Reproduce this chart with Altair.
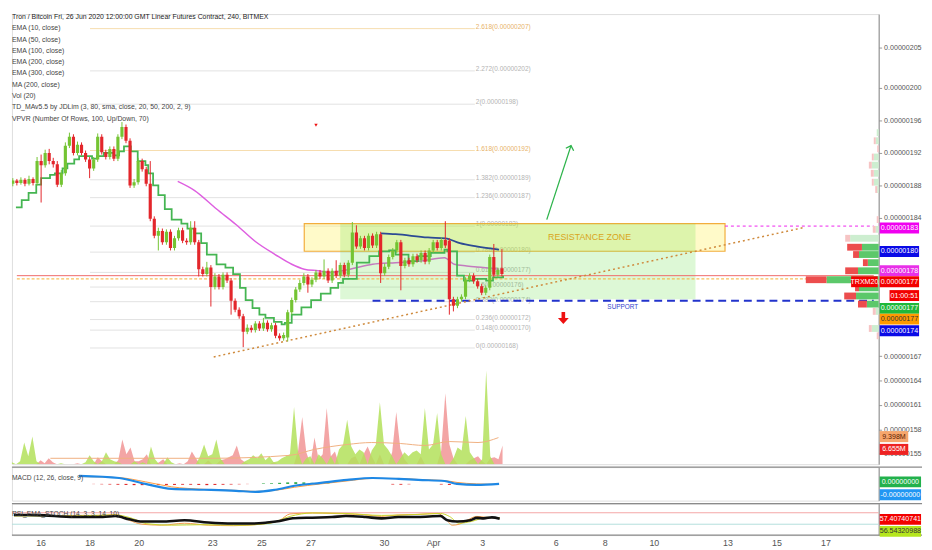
import altair as alt
import pandas as pd

FONT = "Liberation Sans, Arial, sans-serif"
W = 880
H_MAIN, H_MACD, H_RSI = 457, 34, 32
GREEN, RED = "#74c433", "#e3262b"

BAR0 = "2020-03-14 16:00"          # first 4-hour candle (bar 0)
X_DOM = [1.0, 213.0]               # visible bars
P_DOM = [153.7, 209.09]            # price, 1e-8 BTC
V_DOM = [0, 457]
M_DOM = [-8, 8]
R_DOM = [-8, 102]

# ---------------- candles (price in 1e-8 BTC) ----------------
opens = [188.2,188.6,188.3,188.7,188.2,188.8,188.3,191.0,190.5,192.0,
         191.0,190.6,188.1,189.5,192.9,194.0,192.0,193.0,192.0,191.2,
         190.1,191.2,194.0,192.1,191.5,192.5,191.3,194.0,195.2,193.5,
         188.0,188.4,191.0,190.0,188.2,183.9,181.8,182.4,181.0,182.3,
         180.3,181.5,182.5,181.2,181.0,182.8,181.0,177.7,177.1,177.9,
         175.5,176.8,175.5,177.0,176.3,173.8,172.7,171.9,170.0,170.5,
         170.2,171.0,170.4,171.1,170.3,170.8,169.5,169.2,169.3,172.4,
         173.9,175.2,176.0,176.8,175.8,176.4,177.3,176.8,177.5,176.3,
         177.5,176.9,178.2,177.0,178.5,182.2,180.5,181.5,180.3,181.8,
         180.6,182.0,177.2,178.0,179.2,180.0,181.0,178.1,178.8,178.3,
         179.3,178.8,179.7,178.6,180.0,181.0,180.3,181.3,181.2,174.0,
         173.2,174.0,174.3,176.4,176.9,176.2,175.6,174.8,175.4,179.2,
         177.0,177.8]
closes = [188.6,188.3,188.7,188.2,188.8,188.3,191.0,190.5,192.0,191.0,
          190.6,188.1,189.5,192.9,194.0,192.0,193.0,192.0,191.2,190.1,
          191.2,194.0,192.1,191.5,192.5,191.3,194.0,195.2,193.5,188.0,
          188.4,191.0,190.0,188.2,183.9,181.8,182.4,181.0,182.3,180.3,
          181.5,182.5,181.2,181.0,182.8,181.0,177.7,177.1,177.9,175.5,
          176.8,175.5,177.0,176.3,173.8,172.7,171.9,170.0,170.5,170.2,
          171.0,170.4,171.1,170.3,170.8,169.5,169.2,169.6,172.4,173.9,
          175.2,176.0,176.8,175.8,176.4,177.3,176.8,177.5,176.3,177.5,
          176.9,178.2,177.0,178.5,182.2,180.5,181.5,180.3,181.8,180.6,
          182.0,177.2,178.0,179.2,180.0,181.0,178.1,178.8,178.3,179.3,
          178.8,179.7,178.6,180.0,181.0,180.3,181.3,180.6,174.0,173.2,
          174.0,174.3,176.4,176.9,176.2,175.6,174.8,175.4,179.2,177.0,
          177.6,177.1]
highs = [188.9,188.8,189.0,188.9,189.2,189.0,191.5,191.8,192.4,192.5,
         191.4,191.0,189.9,193.3,194.5,194.3,193.4,193.3,192.3,191.5,
         191.5,194.4,194.3,192.4,192.8,192.8,194.3,195.8,195.5,193.8,
         188.8,191.4,191.3,190.3,191.0,184.2,182.8,182.7,182.6,182.6,
         181.8,182.8,182.8,181.5,183.6,183.6,181.3,178.0,178.6,178.2,
         177.2,177.1,177.3,177.3,176.6,174.1,173.0,172.2,170.9,170.8,
         171.3,171.3,171.7,171.4,171.1,171.1,169.8,169.9,172.7,174.2,
         175.5,176.4,177.2,177.1,176.7,177.6,177.6,178.9,177.8,177.8,
         178.8,178.5,178.5,178.8,183.5,183.1,181.8,181.8,182.1,182.1,
         182.3,182.3,178.4,179.5,180.3,181.3,181.3,179.1,179.1,179.6,
         179.6,180.0,180.0,180.3,181.3,181.3,181.6,183.6,181.5,174.3,
         174.3,174.6,176.7,177.2,177.2,176.5,175.9,175.7,179.5,180.8,
         177.9,180.2]
lows = [187.9,188.0,188.1,187.9,188.0,188.0,188.0,185.9,190.2,190.6,
        190.2,187.8,187.8,189.2,192.6,191.7,191.7,191.7,190.9,188.9,
        189.8,190.9,191.8,191.2,191.2,191.0,191.0,193.7,193.2,187.7,
        187.7,188.1,189.7,187.9,183.6,181.5,180.0,180.7,180.7,180.0,
        180.0,181.2,180.9,180.7,180.7,180.7,176.8,176.8,176.8,173.1,
        175.2,175.2,175.2,176.0,172.1,172.4,171.6,168.1,169.7,169.9,
        169.9,170.1,170.1,170.0,170.0,169.2,168.9,168.9,168.8,172.1,
        173.6,174.9,175.7,174.8,175.5,176.1,176.5,176.5,176.0,176.0,
        176.6,176.6,176.7,176.7,178.2,180.2,180.2,180.0,180.0,180.3,
        180.3,176.0,176.9,177.7,178.9,179.7,175.1,177.8,178.0,178.0,
        178.5,178.5,178.3,178.3,179.7,180.0,180.0,180.3,172.1,172.5,
        172.9,173.7,174.0,176.1,175.9,175.3,174.5,174.5,175.1,176.7,
        176.7,176.8]

# ---------------- volume (thousand contracts, approx.) ----------------
vol_up = [7,2,0,3,22,8,28,3,0,0, 0,0,0,1,0,0,0,0,0,2, 9,3,0,3,12,5,3,2,0,0,
          0,3,0,2,0,18,5,0,0,7, 2,0,0,0,0,0,0,8,20,8, 10,25,6,0,0,0,0,0,3,5,
          9,6,11,4,8,2,3,6,8,10, 58,12,0,6,8,0,10,6,0,8, 0,15,20,45,18,10,15,12,0,14,
          20,63,20,15,8,0,6,12,8,12, 14,10,57,15,20,52,10,0,0,6, 17,14,49,12,6,0,5,95,8,0,
          0,0]
vol_down = [0,0,0,0,0,0,0,0,4,1, 6,2,0,0,0,0,0,1,0,0, 0,0,7,3,0,0,0,4,25,10,
            17,3,3,5,10,0,0,2,5,0, 0,0,1,0,3,13,6,0,0,4, 0,0,4,5,7,9,19,5,2,0,
            0,0,0,0,0,2,0,0,0,0, 0,14,48,12,0,27,5,10,57,8, 13,0,0,0,6,8,0,10,18,8,
            0,10,0,0,12,53,16,5,0,0, 0,8,0,0,0,0,14,72,20,6, 0,0,0,4,6,8,3,0,6,7,
            5,19]
volma_bar = [10.4, 30, 50, 69, 75, 83, 89, 96, 102, 108, 115, 120]
volma_val = [6, 6, 6, 9, 15, 20, 22, 21, 19, 23, 22, 27]

# ---------------- indicator lines on price ----------------
td_bar = [0.77,2.2,3.9,5.8,7.0,9.2,10.4,12.3,13.5,15.2,16.4,17.6,19.6,20.8,22.5,24.9,26.3,27.5,29.2,30.9,
          32.8,33.5,34.7,36.0,37.6,39.3,41.7,43.2,44.9,46.6,48.0,50.4,52.6,54.5,56.2,57.6,59.3,61.0,62.5,64.6,
          66.5,67.3,69.0,71.4,73.8,76.2,78.6,80.5,81.7,85.1,88.2,90.6,93.1,94.7,97.9,100.3,103.4,106.8,107.5,109.9,
          111.6,114.0,117.1,118.8,121.3]
td_val = [185.3,186.2,187.1,188.1,188.9,189.3,189.5,190.1,190.7,191.2,191.6,191.6,191.3,191.6,192.0,191.7,192.2,192.8,192.2,191.0,
          190.5,189.5,188.0,186.8,185.1,183.8,183.3,182.7,182.1,180.9,179.5,178.3,177.9,177.1,175.4,173.9,172.9,172.1,171.7,171.2,
          170.9,171.1,172.1,173.0,173.9,174.7,175.4,176.0,176.5,178.5,179.3,179.9,180.0,179.5,178.7,179.3,179.7,180.1,179.9,176.9,
          176.3,176.5,176.3,176.7,176.9]
ma_bar = [40.8,44.9,50.4,55.2,60.0,64.9,69.0,72.1,75.5,78.6,83.4,89.0,94.7,101.0,106.8,109.2,112.3,116.4,120.3]
ma_val = [188.5,187.4,185.1,183.2,181.1,179.5,178.3,177.7,177.5,177.3,177.7,178.3,178.5,178.7,179.1,178.3,178.1,177.9,177.7]
ema_bar = [91.1,94.7,102.7,107.0,110.6,114.7,120.3]
ema_val = [182.1,182.0,181.6,181.5,180.9,180.5,180.1]

# ---------------- fibonacci retracement ----------------
fib_price = [168.0,170.2,171.5,173.7,175.5,177.3,179.8,183.0,186.5,188.7,192.3,198.0,202.1,207.3]
fib_label = ["0(0.00000168)","0.148(0.00000170)","0.236(0.00000172)","0.382(0.00000174)","0.5(0.00000176)",
             "0.618(0.00000177)","0.786(0.00000180)","1(0.00000183)","1.236(0.00000187)","1.382(0.00000189)",
             "1.618(0.00000192)","2(0.00000198)","2.272(0.00000202)","2.618(0.00000207)"]
fib_hot = [0,0,0,0,0,0,0,0,0,0,1,0,0,1]
FIB_B0, FIB_B1 = 19.1, 114.3

# ---------------- drawings ----------------
res_zone = dict(b0=72.1, b1=176.2, lo=179.9, hi=183.3)
green_zone = dict(b0=81.0, b1=168.9, lo=174.0, hi=183.3)
last_price, mark_price, res_line, support = 176.9, 176.5, 183.0, 173.8
trend_bar, trend_val = [49.7, 195.5], [166.9, 182.8]
arrow_bar, arrow_val = [132.1, 138.1], [183.8, 192.9]
down_arrow = (136.2, 171.7)

# ---------------- VPVR ----------------
vp_price = [194.5,193.5,192.5,191.5,190.5,189.5,188.4,187.5,183.8,182.6,181.5,180.4,179.5,178.5,177.5,176.4,175.4,174.4,173.4,172.5,170.4,169.5]
vp_up    = [2,3,0,5,7,5,5,1.5,0,3,29,17,20,11,21,53,20,23,12,3,7,0]
vp_down  = [0,2,1.5,2,3,3,2,2,2,3,5,15,6,5,13,21,4,12,9,3,3,2]
vp_va    = [0,0,0,0,0,0,0,0,0,0,0,1,1,1,1,1,1,1,1,0,0,0]

# ---------------- MACD / RSI ----------------
macd_bar = [16.4,26.3,32.8,39.3,47.3,55.2,60.0,64.9,69.7,76.2,82.7,89.0,95.5,100.3,106.8,109.9,114.7,120.3]
macd_val = [3.8,2.8,0.0,-2.4,-2.8,-3.3,-3.8,-2.8,-0.9,0.5,1.9,2.8,2.4,1.9,1.4,0.0,-0.5,0.0]
signal_val = [3.5,3.0,1.0,-1.4,-2.6,-3.1,-3.6,-3.1,-1.6,0.0,1.4,2.6,2.6,2.1,1.6,0.7,0.0,-0.2]
hist_bar = [20,22,24,26,28,30,32,34,36,38,40,42,44,46,48,50,52,54,56,58,
            62,64,66,68,70,72,74,76,78, 94,96,98,106,108,110]
hist_val = [-0.1,-0.2,-0.3,-0.4,-0.5,-0.6,-0.6,-0.7,-0.6,-0.5,-0.5,-0.4,-0.4,-0.5,-0.6,-0.5,-0.4,-0.3,-0.2,-0.1,
            0.2,0.3,0.5,0.7,0.8,0.7,0.5,0.3,0.2, -0.3,-0.4,-0.2,-0.3,-0.5,-0.3]
rsi_bar = [1.5,7.0,16.4,23.2,26.3,29.7,32.8,37.6,43.2,49.0,55.2,60.0,63.4,66.5,69.7,74.5,79.3,82.7,87.5,91.4,
           95.5,100.3,105.8,107.5,109.9,113.1,114.7,116.4,118.4,120.3]
rsi_val = [62.5,61.8,55.0,55.0,58.4,47.1,39.2,39.2,43.7,35.8,32.4,32.4,35.8,41.3,50.5,52.9,55.0,58.4,55.0,50.5,
           55.0,55.0,58.4,43.7,39.2,43.7,52.2,50.5,53.9,49.5]
k_bar = [1.5,16.4,23.2,26.3,29.7,32.8,37.6,43.2,49.0,55.2,61.7,66.5,69.0,74.5,79.3,82.7,87.5,91.4,95.5,100.3,
         105.1,107.0,108.7,110.4,112.3,114.7,117.1,120.3]
k_val = [60.0,60.8,60.8,64.2,43.7,30.0,26.6,33.4,26.6,24.9,30.0,43.7,65.9,69.3,67.6,65.9,62.5,57.3,62.5,64.2,
         67.6,50.5,26.6,30.0,43.7,57.3,53.9,52.2]
d_bar = [1.5,16.4,26.3,30.4,34.0,40.0,47.3,56.9,64.1,69.0,74.5,82.7,91.4,100.3,105.8,108.0,110.4,113.5,117.1,120.3]
d_val = [59.0,59.0,62.5,50.5,31.7,26.6,28.3,26.6,33.4,57.3,69.3,67.6,60.8,64.2,67.6,57.3,33.4,40.1,53.9,52.2]
rsi_bands = [70, 30]

# ---------------- text ----------------
title_line = "Tron / Bitcoin Fri, 26 Jun 2020 12:00:00 GMT Linear Futures Contract, 240, BITMEX"
legend_lines = ["EMA (10, close)", "EMA (50, close)", "EMA (100, close)", "EMA (200, close)",
                "EMA (300, close)", "MA (200, close)", "Vol (20)",
                "TD_MAv5.5 by JDLim (3, 80, sma, close, 20, 50, 200, 2, 9)",
                "VPVR (Number Of Rows, 100, Up/Down, 70)"]
axis_ticks = [155, 158, 161, 164, 167, 184, 188, 192, 196, 200, 205]
tick_dates = ["2020-03-16","2020-03-18","2020-03-20","2020-03-23","2020-03-25","2020-03-27","2020-03-30",
              "2020-04-01","2020-04-03","2020-04-06","2020-04-08","2020-04-10","2020-04-13","2020-04-15","2020-04-17"]
tick_text = ["16","18","20","23","25","27","30","Apr","3","6","8","10","13","15","17"]
# (text, value, background, foreground)
price_tags = [("0.00000183",183,"#f000f0","white"), ("0.00000180",180,"#0a0ae6","white"),
              ("0.00000178",178,"#e830e8","white"), ("0.00000177",177,"#f20000","white"),
              ("01:00:51",177,"#f20000","white"), ("0.00000177",177,"#1fb83a","white"),
              ("0.00000177",177,"#ff9a00","#333333"), ("0.00000174",174,"#0a0ae6","white")]
tag_shift = [2, 1, 4, 7, 21, 34, 45, 32]          # label stacking, px
vol_tags = [("9.398M", 19, "#f6a66c", "#5a1a00"), ("6.655M", 27, "#ee2222", "white")]
vol_shift = [-9, 12]
macd_tags = [("0.00000000", 0, "#22b14c", "white"), ("-0.00000000", 0, "#2196f3", "white")]
macd_shift = [-2, 11]
rsi_tags = [("57.40740741", 57.4, "#f20000", "white"), ("56.54320988", 56.5, "#b5e61d", "#333333")]
rsi_shift = [3, 15]

# ================= build =================
start = pd.Timestamp(BAR0)
tick_bars = [int((pd.Timestamp(d) - start) / pd.Timedelta(hours=4)) for d in tick_dates]
label_expr = " : ".join(f"datum.value == {b} ? '{t}'" for b, t in zip(tick_bars, tick_text)) + " : ''"

xsc = alt.Scale(domain=X_DOM, nice=False, zero=False)
psc = alt.Scale(domain=P_DOM, nice=False, zero=False)
vsc = alt.Scale(domain=V_DOM, nice=False, zero=False)
msc = alt.Scale(domain=M_DOM, nice=False, zero=False)
rsc = alt.Scale(domain=R_DOM, nice=False, zero=False)
vpsc = alt.Scale(domain=[0, W], reverse=True, nice=False, zero=False)

TAG_FS = 7.2
PY_AXIS = alt.Axis(orient="right", values=axis_ticks, labelExpr="format(datum.value/1e8, '.8f')",
                   tickSize=3, tickColor="#999999", domainColor="#8a8a8a", labelColor="#555555",
                   labelFont=FONT, labelFontSize=TAG_FS, labelPadding=2, title=None, grid=False)
SIDE_AXIS = alt.Axis(orient="right", labels=False, ticks=False, grid=False, title=None, domainColor="#8a8a8a")
X_AXIS = alt.Axis(values=tick_bars, labelExpr=label_expr, domain=False, ticks=False, grid=False,
                  labelColor="#555555", labelFont=FONT, labelFontSize=9, labelPadding=4, title=None,
                  labelOverlap=False)

def bx(f, axis=None):
    return alt.X(f, type="quantitative", scale=xsc, axis=axis)

def py(f):
    return alt.Y(f, type="quantitative", scale=psc, axis=PY_AXIS)

def pn(f):
    return alt.Y(f, type="quantitative", scale=psc, axis=None)

one = pd.DataFrame({"k": [0]})
up_cond = alt.condition("datum.close >= datum.open", alt.value(GREEN), alt.value(RED))

cdf = pd.DataFrame({"bar": list(range(len(opens))), "open": opens, "high": highs, "low": lows, "close": closes})
fdf = pd.DataFrame({"p": fib_price, "lab": fib_label, "hot": fib_hot, "b0": FIB_B0, "b1": FIB_B1})

def hline(b0, b1, p, **kw):
    d = pd.DataFrame({"b0": [b0], "b1": [b1], "p": [p]})
    return alt.Chart(d).mark_rule(clip=True, **kw).encode(x=bx("b0"), x2="b1", y=py("p"))

def zone(z, **kw):
    d = pd.DataFrame({k: [v] for k, v in z.items()})
    return alt.Chart(d).mark_rect(**kw).encode(x=bx("b0"), x2="b1", y=py("lo"), y2="hi")

def line(bars, vals, **kw):
    d = pd.DataFrame({"bar": bars, "v": vals})
    return alt.Chart(d).mark_line(clip=True, **kw).encode(x=bx("bar"), y=py("v"))

price_layers = [
    alt.Chart(fdf).mark_rule(strokeWidth=1).encode(
        x=bx("b0"), x2="b1", y=py("p"),
        color=alt.condition("datum.hot == 1", alt.value("#f6dcae"), alt.value("#e2e2e2"))),
    alt.Chart(fdf).mark_text(align="left", baseline="bottom", dx=1, dy=1, fontSize=6.6, font=FONT).encode(
        x=bx("b1"), y=py("p"), text="lab:N",
        color=alt.condition("datum.hot == 1", alt.value("#e8b36a"), alt.value("#b4b4b4"))),
    line(ma_bar, ma_val, color="#de5fe0", strokeWidth=1.5, interpolate="monotone"),
    zone(res_zone, fill="#ffee58", fillOpacity=0.32, stroke="#f2ad3c", strokeWidth=1.2),
    zone(green_zone, fill="#66dd44", fillOpacity=0.22),
    hline(X_DOM[0], X_DOM[1], last_price, color="#f06a6a", strokeWidth=1),
    hline(X_DOM[0], X_DOM[1], mark_price, color="#f5b030", strokeWidth=1, strokeDash=[3, 2]),
    hline(res_zone["b1"], X_DOM[1], res_line, color="#ee22ee", strokeWidth=1, strokeDash=[3, 3]),
    hline(89.0, X_DOM[1], support, color="#2233cc", strokeWidth=2, strokeDash=[8, 5]),
    line(trend_bar, trend_val, color="#cf8a3c", strokeWidth=1.5, strokeDash=[2, 3]),
    line(td_bar, td_val, color="#45b552", strokeWidth=1.8, interpolate="step-after"),
    line(ema_bar, ema_val, color="#2c4a94", strokeWidth=1.8, interpolate="monotone"),
    alt.Chart(cdf).mark_rule(clip=True, strokeWidth=1).encode(x=bx("bar"), y=py("low"), y2="high", color=up_cond),
    alt.Chart(cdf).mark_bar(clip=True, size=3.2).encode(x=bx("bar"), y=py("open"), y2="close", color=up_cond),
    line(arrow_bar, arrow_val, color="#2cb34a", strokeWidth=1.3),
    alt.Chart(pd.DataFrame({"bar": [arrow_bar[1]], "v": [arrow_val[1]]})).mark_point(
        shape="M-1,1L0,0L1,1", filled=False, size=70, angle=18, color="#2cb34a", strokeWidth=1.3, opacity=1
    ).encode(x=bx("bar"), y=py("v")),
    alt.Chart(pd.DataFrame({"bar": [down_arrow[0]], "v": [down_arrow[1]]})).mark_point(
        shape="M-0.3,-1L0.3,-1L0.3,0L0.9,0L0,1L-0.9,0L-0.3,0Z", filled=True, size=150, color="#ee1111", opacity=1
    ).encode(x=bx("bar"), y=py("v")),
    alt.Chart(pd.DataFrame({"bar": [75.0], "v": [195.4]})).mark_point(
        shape="triangle-down", filled=True, size=12, color="#ee1111", opacity=1
    ).encode(x=bx("bar"), y=py("v")),
    alt.Chart(pd.DataFrame({"bar": [142.7], "v": [181.6], "t": ["RESISTANCE ZONE"]})).mark_text(
        color="#d9a520", fontSize=9, font=FONT).encode(x=bx("bar"), y=py("v"), text="t:N"),
    alt.Chart(pd.DataFrame({"bar": [150.9], "v": [173.0], "t": ["SUPPORT"]})).mark_text(
        color="#3344cc", fontSize=6.5, font=FONT).encode(x=bx("bar"), y=py("v"), text="t:N"),
]
price_g = alt.layer(*price_layers)

# volume
vdf = pd.DataFrame({"bar": list(range(len(vol_up))), "up": vol_up, "down": vol_down})
vmdf = pd.DataFrame({"bar": volma_bar, "v": volma_val})
vol_layers = [
    alt.Chart(vdf).mark_area(color="#f29b9b", opacity=0.9, clip=True).encode(
        x=bx("bar"), y=alt.Y("down:Q", scale=vsc, axis=None)),
    alt.Chart(vdf).mark_area(color="#b3e05a", opacity=0.85, clip=True).encode(
        x=bx("bar"), y=alt.Y("up:Q", scale=vsc, axis=None)),
    alt.Chart(vmdf).mark_line(color="#f0b080", strokeWidth=1, interpolate="monotone").encode(
        x=bx("bar"), y=alt.Y("v:Q", scale=vsc, axis=None)),
]
for (t, v, bg, fg), off in zip(vol_tags, vol_shift):
    d = pd.DataFrame({"v": [v], "top": [v + 5.6], "bot": [v - 5.6], "t": [t]})
    vol_layers.append(alt.Chart(d).mark_rect(color=bg, yOffset=off, y2Offset=off).encode(
        x=alt.value(W + 1), x2=alt.value(W + 30), y=alt.Y("top:Q", scale=vsc, axis=None), y2="bot"))
    vol_layers.append(alt.Chart(d).mark_text(color=fg, fontSize=TAG_FS, font=FONT, yOffset=off).encode(
        x=alt.value(W + 15.5), y=alt.Y("v:Q", scale=vsc, axis=None), text="t:N"))
vol_g = alt.layer(*vol_layers)

# VPVR
vp = pd.DataFrame({"p": vp_price, "up": vp_up, "down": vp_down, "va": vp_va})
vp["z"] = 0
vp["tot"] = vp["up"] + vp["down"]
vp["lo"] = vp["p"] - 0.42
vp["hi"] = vp["p"] + 0.42
vp_g = alt.layer(
    alt.Chart(vp).mark_rect().encode(
        x=alt.X("z:Q", scale=vpsc, axis=None), x2="up", y=pn("lo"), y2="hi",
        color=alt.condition("datum.va == 1", alt.value("#5cc86a"), alt.value("#cdeed0"))),
    alt.Chart(vp).mark_rect().encode(
        x=alt.X("up:Q", scale=vpsc, axis=None), x2="tot", y=pn("lo"), y2="hi",
        color=alt.condition("datum.va == 1", alt.value("#ec4d4d"), alt.value("#f6c4c4"))),
)

# price tags + legend
lab_layers = []
for (t, v, bg, fg), off in zip(price_tags, tag_shift):
    d = pd.DataFrame({"v": [v], "top": [v + 0.67], "bot": [v - 0.67], "t": [t]})
    x0 = W + 11 if ":" in t else W + 1
    lab_layers.append(alt.Chart(d).mark_rect(color=bg, yOffset=off, y2Offset=off).encode(
        x=alt.value(x0), x2=alt.value(W + 41), y=pn("top"), y2="bot"))
    lab_layers.append(alt.Chart(d).mark_text(color=fg, fontSize=TAG_FS, font=FONT, yOffset=off).encode(
        x=alt.value((x0 + W + 41) / 2), y=pn("v"), text="t:N"))
d = pd.DataFrame({"v": [177], "top": [177.67], "bot": [176.33], "t": ["TRXM20"]})
lab_layers.append(alt.Chart(d).mark_rect(color="#f20000", yOffset=7, y2Offset=7).encode(
    x=alt.value(W - 28), x2=alt.value(W - 1), y=pn("top"), y2="bot"))
lab_layers.append(alt.Chart(d).mark_text(color="white", fontSize=TAG_FS, font=FONT, yOffset=7).encode(
    x=alt.value(W - 14.5), y=pn("v"), text="t:N"))
lab_layers.append(alt.Chart(one).mark_text(align="left", baseline="middle", fontSize=7, font=FONT,
                                           color="#222222", text=title_line).encode(
    x=alt.value(0), y=alt.value(3)))
lab_layers.append(alt.Chart(one).mark_text(align="left", baseline="top", fontSize=7, font=FONT,
                                           color="#444444", lineHeight=11.45, text=legend_lines).encode(
    x=alt.value(0), y=alt.value(10.5)))
lab_g = alt.layer(*lab_layers)

main = alt.layer(price_g, vol_g, vp_g, lab_g).resolve_scale(x="independent", y="independent").properties(
    width=W, height=H_MAIN)

# MACD panel
mdf = pd.DataFrame({"bar": macd_bar, "m": macd_val, "s": signal_val})
hdf = pd.DataFrame({"bar": hist_bar, "h": hist_val, "z": 0})
my = lambda f: alt.Y(f, type="quantitative", scale=msc, axis=SIDE_AXIS)
macd_layers = [
    alt.Chart(one).mark_rule(color="#8a8a8a", strokeWidth=1.2).encode(
        x=alt.value(0), x2=alt.value(W + 44), y=alt.value(0)),
    alt.Chart(hdf).mark_bar(size=3).encode(
        x=bx("bar"), y=my("z"), y2="h",
        color=alt.condition("datum.h >= 0", alt.value("#26a640"), alt.value("#e02424"))),
    alt.Chart(mdf).mark_line(color="#ff9a3c", strokeWidth=1, interpolate="monotone").encode(x=bx("bar"), y=my("s")),
    alt.Chart(mdf).mark_line(color="#1e88e5", strokeWidth=2.2, interpolate="monotone").encode(x=bx("bar"), y=my("m")),
    alt.Chart(one).mark_text(align="left", baseline="middle", fontSize=6.8, font=FONT, color="#444444",
                             text="MACD (12, 26, close, 9)").encode(x=alt.value(0), y=alt.value(11)),
]
for (t, v, bg, fg), off in zip(macd_tags, macd_shift):
    d = pd.DataFrame({"v": [v], "top": [v + 2.6], "bot": [v - 2.6], "t": [t]})
    macd_layers.append(alt.Chart(d).mark_rect(color=bg, yOffset=off, y2Offset=off).encode(
        x=alt.value(W + 1), x2=alt.value(W + 43), y=my("top"), y2="bot"))
    macd_layers.append(alt.Chart(d).mark_text(color=fg, fontSize=TAG_FS, font=FONT, yOffset=off).encode(
        x=alt.value(W + 22), y=my("v"), text="t:N"))
macd = alt.layer(*macd_layers).properties(width=W, height=H_MACD)

# RSI panel
ry = lambda f: alt.Y(f, type="quantitative", scale=rsc, axis=SIDE_AXIS)
rx = lambda f: alt.X(f, type="quantitative", scale=xsc, axis=X_AXIS)
rsi_layers = [
    alt.Chart(one).mark_rule(color="#8a8a8a", strokeWidth=1.2).encode(
        x=alt.value(0), x2=alt.value(W + 44), y=alt.value(0)),
    alt.Chart(one).mark_rule(color="#8a8a8a", strokeWidth=1.2).encode(
        x=alt.value(0), x2=alt.value(W + 44), y=alt.value(H_RSI)),
    alt.Chart(pd.DataFrame({"v": [rsi_bands[0]]})).mark_rule(color="#f4a6a6", strokeWidth=1).encode(
        x=alt.value(0), x2=alt.value(W), y=ry("v")),
    alt.Chart(pd.DataFrame({"v": [rsi_bands[1]]})).mark_rule(color="#b4e0dc", strokeWidth=1).encode(
        x=alt.value(0), x2=alt.value(W), y=ry("v")),
    alt.Chart(pd.DataFrame({"bar": k_bar, "v": k_val})).mark_line(color="#f39c4a", strokeWidth=1, interpolate="monotone").encode(x=rx("bar"), y=ry("v")),
    alt.Chart(pd.DataFrame({"bar": d_bar, "v": d_val})).mark_line(color="#c8d42a", strokeWidth=1, interpolate="monotone").encode(x=rx("bar"), y=ry("v")),
    alt.Chart(pd.DataFrame({"bar": rsi_bar, "v": rsi_val})).mark_line(color="#111111", strokeWidth=2.6, interpolate="monotone").encode(x=rx("bar"), y=ry("v")),
    alt.Chart(one).mark_text(align="left", baseline="middle", fontSize=6.8, font=FONT, color="#444444",
                             text="RSI_EMA_STOCH (14, 3, 3, 14, 10)").encode(x=alt.value(0), y=alt.value(11)),
]
for (t, v, bg, fg), off in zip(rsi_tags, rsi_shift):
    d = pd.DataFrame({"v": [v], "top": [v + 19], "bot": [v - 19], "t": [t]})
    rsi_layers.append(alt.Chart(d).mark_rect(color=bg, yOffset=off, y2Offset=off).encode(
        x=alt.value(W + 1), x2=alt.value(W + 43), y=ry("top"), y2="bot"))
    rsi_layers.append(alt.Chart(d).mark_text(color=fg, fontSize=TAG_FS, font=FONT, yOffset=off).encode(
        x=alt.value(W + 22), y=ry("v"), text="t:N"))
rsi = alt.layer(*rsi_layers).properties(width=W, height=H_RSI)

chart = alt.vconcat(main, macd, rsi, spacing=0).properties(padding=0).configure_view(stroke=None).configure(
    background="white")

chart.save("out.html", embed_options={"renderer": "svg", "actions": False})
